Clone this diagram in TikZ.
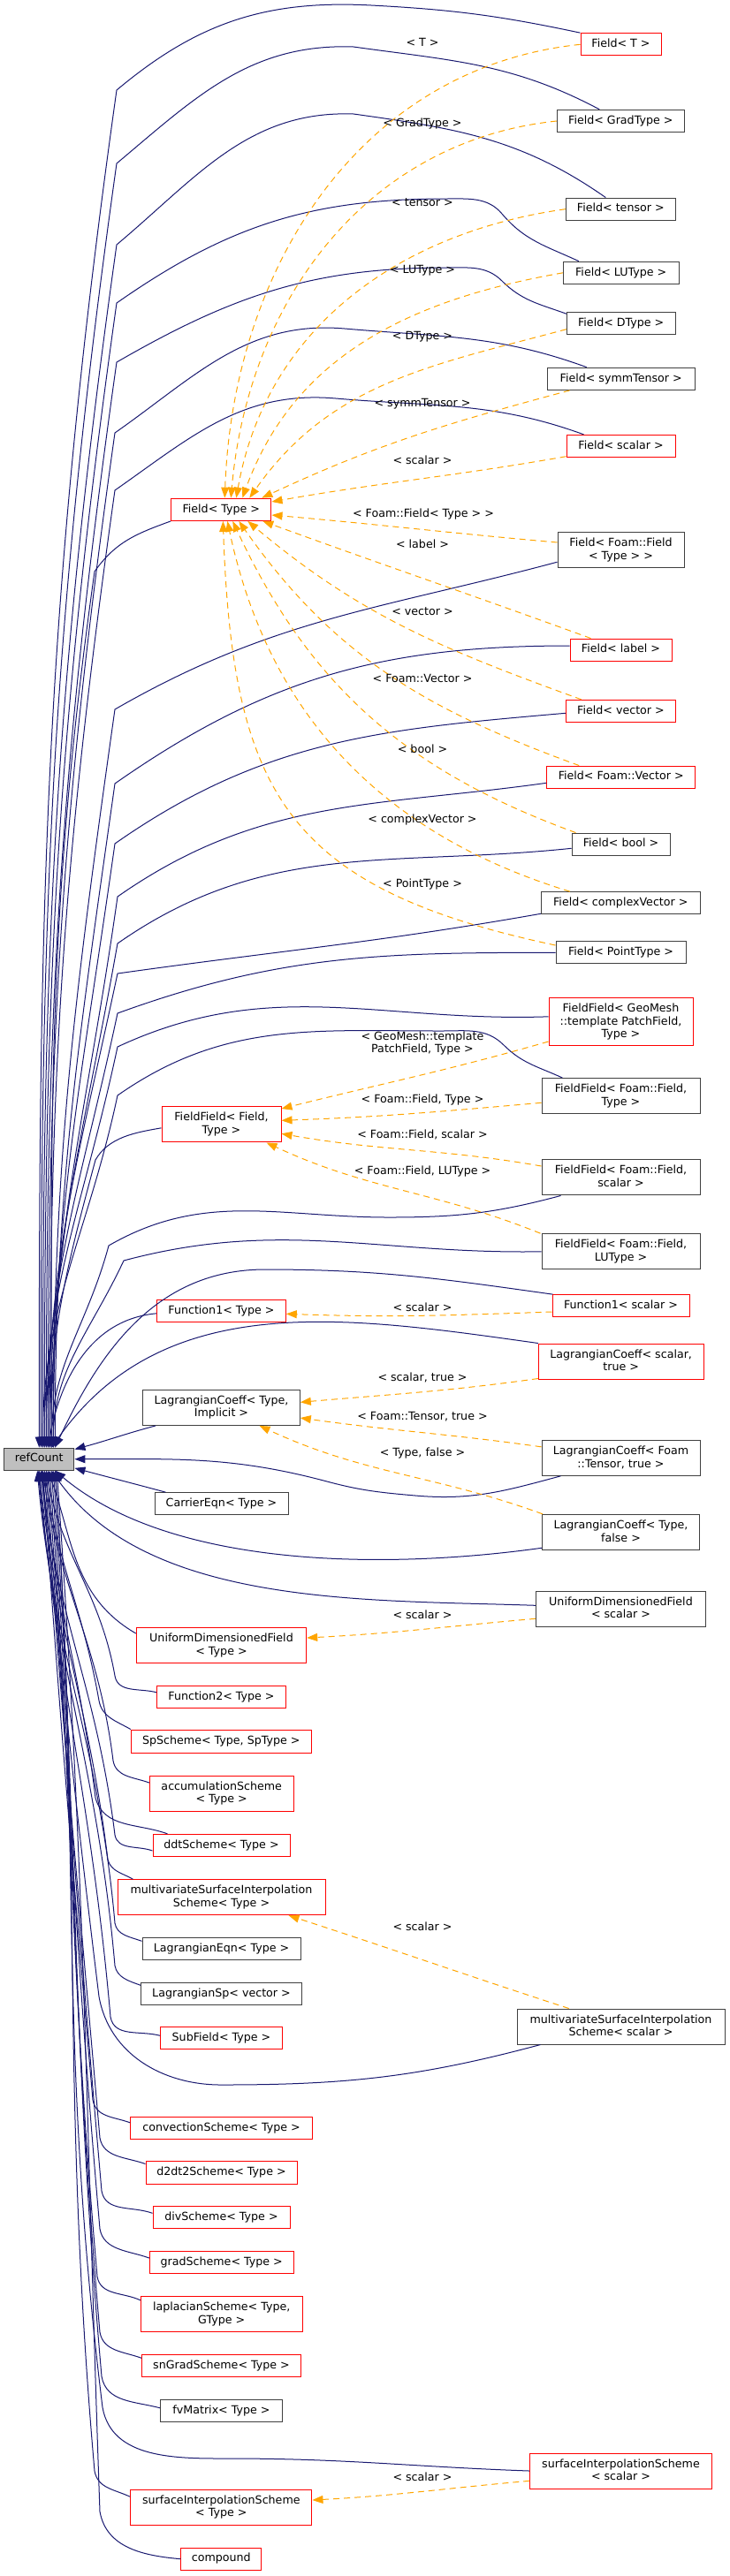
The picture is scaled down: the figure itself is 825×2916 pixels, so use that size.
\documentclass[tikz,border=0pt]{standalone}
\usepackage{fontspec}
\setmainfont{DejaVu Sans}
\usetikzlibrary{arrows.meta}
\definecolor{edgeblue}{HTML}{191970}
\definecolor{edgeorange}{HTML}{FFA500}
\definecolor{boxred}{HTML}{FF0000}
\definecolor{boxgray}{HTML}{404040}
\definecolor{fillgray}{HTML}{BFBFBF}
\newcommand\dxfont{\fontsize{12.65pt}{14.7pt}\selectfont}
\newcommand\lnstrut{\rule[-2.9pt]{0pt}{12.2pt}}
\tikzset{
  dbox/.style={draw, line width=1pt, inner sep=0pt, font=\dxfont, fill=white},
  n1/.style={dbox, text height=9.3pt, text depth=2.9pt, minimum height=25.3pt},
  n2/.style={dbox, align=center, minimum height=40pt},
  n3/.style={dbox, align=center, minimum height=54.3pt},
  rd/.style={draw=boxred},
  bk/.style={draw=boxgray},
  lbl/.style={inner sep=0pt, font=\dxfont, text height=9.3pt, text depth=2.9pt},
  lbltwo/.style={inner sep=0pt, font=\dxfont, align=center},
  be/.style={draw=edgeblue, line width=1pt, -{Triangle[length=12pt,width=9pt]}},
  bs/.style={draw=edgeblue, line width=1pt, {Triangle[length=12pt,width=9pt]}-},
  oe/.style={draw=edgeorange, line width=1pt, dash pattern=on 7pt off 5pt, -{Triangle[length=12pt,width=9pt]}},
}
\begin{document}
\begin{tikzpicture}[x=1pt,y=1pt]
\useasboundingbox (0,0) rectangle (825,-2916);
% ---------- right column ----------
\node[n1,rd,minimum width=91pt] (fT) at (702.5,-50.3) {Field< T >};
\node[n1,bk,minimum width=144pt] (fGrad) at (702.3,-137) {Field< GradType >};
\node[n1,bk,minimum width=124pt] (fTensor) at (702.3,-236.7) {Field< tensor >};
\node[n1,bk,minimum width=130.7pt] (fLU) at (702.7,-308.8) {Field< LUType >};
\node[n1,bk,minimum width=122.7pt] (fD) at (702.7,-366.2) {Field< DType >};
\node[n1,bk,minimum width=167.3pt] (fSymm) at (702.7,-428.8) {Field< symmTensor >};
\node[n1,rd,minimum width=123pt] (fScalar) at (702.5,-505) {Field< scalar >};
\node[n2,bk,minimum width=143pt] (fFF) at (702.5,-622.3) {\lnstrut Field< Foam::Field\\\lnstrut < Type > >};
\node[n1,rd,minimum width=115pt] (fLabel) at (702.5,-735.7) {Field< label >};
\node[n1,rd,minimum width=124.4pt] (fVector) at (702.5,-805) {Field< vector >};
\node[n1,rd,minimum width=168pt] (fFV) at (702.7,-879.7) {Field< Foam::Vector >};
\node[n1,bk,minimum width=111pt] (fBool) at (702.5,-955.7) {Field< bool >};
\node[n1,bk,minimum width=180pt] (fCV) at (702.3,-1022.3) {Field< complexVector >};
\node[n1,bk,minimum width=147pt] (fPT) at (702.5,-1078.3) {Field< PointType >};
\node[n3,rd,minimum width=163pt] (ffGeo) at (702.5,-1156.8) {\lnstrut FieldField< GeoMesh\\\lnstrut ::template PatchField,\\\lnstrut Type >};
\node[n2,bk,minimum width=179pt,minimum height=40.3pt] (ffFT) at (702.5,-1240.8) {\lnstrut FieldField< Foam::Field,\\\lnstrut Type >};
\node[n2,bk,minimum width=179pt,minimum height=40.3pt] (ffFS) at (702.5,-1332.8) {\lnstrut FieldField< Foam::Field,\\\lnstrut scalar >};
\node[n2,bk,minimum width=179pt,minimum height=40.3pt] (ffFL) at (702.5,-1416.8) {\lnstrut FieldField< Foam::Field,\\\lnstrut LUType >};
\node[n1,rd,minimum width=155pt] (f1s) at (702.5,-1478.3) {Function1< scalar >};
\node[n2,rd,minimum width=186.7pt] (lcST) at (702.7,-1541) {\lnstrut LagrangianCoeff< scalar,\\\lnstrut true >};
\node[n2,bk,minimum width=179pt] (lcFT) at (702.5,-1650.3) {\lnstrut LagrangianCoeff< Foam\\\lnstrut ::Tensor, true >};
\node[n2,bk,minimum width=177.6pt] (lcTF) at (702.5,-1734.3) {\lnstrut LagrangianCoeff< Type,\\\lnstrut false >};
\node[n2,bk,minimum width=192.4pt] (udfS) at (702.5,-1821) {\lnstrut UniformDimensionedField\\\lnstrut < scalar >};
\node[n2,bk,minimum width=235pt] (msisS) at (702.5,-2294) {\lnstrut multivariateSurfaceInterpolation\\\lnstrut Scheme< scalar >};
\node[n2,rd,minimum width=205.6pt] (sisS) at (702.5,-2797) {\lnstrut surfaceInterpolationScheme\\\lnstrut < scalar >};
% ---------- middle column ----------
\node[n1,rd,minimum width=113.3pt] (fType) at (250.3,-576.8) {Field< Type >};
\node[n2,rd,minimum width=135pt,minimum height=40.3pt] (ffT0) at (250.5,-1272.8) {\lnstrut FieldField< Field,\\\lnstrut Type >};
\node[n1,rd,minimum width=145.6pt] (f1T) at (250.5,-1483.8) {Function1< Type >};
\node[n2,bk,minimum width=177.6pt,minimum height=40.3pt] (lcTI) at (250.5,-1593.2) {\lnstrut LagrangianCoeff< Type,\\\lnstrut Implicit >};
\node[n1,bk,fill=fillgray,minimum width=79.3pt] (refCount) at (44.3,-1651.7) {refCount};
\node[n1,bk,minimum width=151pt] (carrier) at (250.5,-1702.3) {CarrierEqn< Type >};
\node[n2,rd,minimum width=192.4pt] (udfT) at (250.5,-1862.3) {\lnstrut UniformDimensionedField\\\lnstrut < Type >};
\node[n1,rd,minimum width=145.6pt] (f2T) at (250.5,-1920.8) {Function2< Type >};
\node[n1,rd,minimum width=204pt,minimum height=26pt] (sp) at (250.3,-1971) {SpScheme< Type, SpType >};
\node[n2,rd,minimum width=162.7pt,minimum height=39.7pt] (accum) at (250.7,-2030.2) {\lnstrut accumulationScheme\\\lnstrut < Type >};
\node[n1,rd,minimum width=155pt] (ddt) at (250.5,-2089) {ddtScheme< Type >};
\node[n2,rd,minimum width=235pt] (msisT) at (250.5,-2147.7) {\lnstrut multivariateSurfaceInterpolation\\\lnstrut Scheme< Type >};
\node[n1,bk,minimum width=179pt] (lEqn) at (250.5,-2206.3) {LagrangianEqn< Type >};
\node[n1,bk,minimum width=181.6pt] (lSp) at (250.5,-2257) {LagrangianSp< vector >};
\node[n1,rd,minimum width=137.6pt] (subF) at (250.5,-2307.3) {SubField< Type >};
\node[n1,rd,minimum width=205.6pt] (conv) at (250.5,-2408.8) {convectionScheme< Type >};
\node[n1,rd,minimum width=171pt] (d2dt2) at (250.5,-2459.5) {d2dt2Scheme< Type >};
\node[n1,rd,minimum width=155pt] (divS) at (250.5,-2510.3) {divScheme< Type >};
\node[n1,rd,minimum width=162.7pt] (gradS) at (250.7,-2561) {gradScheme< Type >};
\node[n2,rd,minimum width=182.7pt,minimum height=39.7pt] (lap) at (250.7,-2619.8) {\lnstrut laplacianScheme< Type,\\\lnstrut GType >};
\node[n1,rd,minimum width=179.6pt] (snGrad) at (250.5,-2678.3) {snGradScheme< Type >};
\node[n1,bk,minimum width=137.6pt] (fvM) at (250.5,-2728.8) {fvMatrix< Type >};
\node[n2,rd,minimum width=205.3pt,minimum height=39.7pt] (sisT) at (250.3,-2838.2) {\lnstrut surfaceInterpolationScheme\\\lnstrut < Type >};
\node[n1,rd,minimum width=90.7pt] (compound) at (250.3,-2896.7) {compound};

% ---------- blue edges, upper group ----------
\draw[be] (fT.north west) .. controls +(168:93) and +(-3:93) .. (420,-6) .. controls +(177:119) and +(40:119) .. (132,-102) .. controls +(262:600) and +(90:600) .. (refCount.north);
\draw[be] ([xshift=-24pt]fGrad.north) .. controls +(152:112) and +(-8:112) .. (400,-53) .. controls +(178:117) and +(40:117) .. (132,-185) .. controls +(262:568) and +(90:568) .. ([xshift=2pt]refCount.north);
\draw[be] ([xshift=-17pt]fTensor.north) .. controls +(145:117) and +(-8:117) .. (400,-129) .. controls +(178:119) and +(40:119) .. (132,-277) .. controls +(262:532) and +(90:532) .. ([xshift=4pt]refCount.north);
\draw[be] ([xshift=18pt]fLU.north west) .. controls +(155:40) and +(-50:40) .. (568,-242) .. controls +(130:25) and +(0:25) .. (505,-225) .. controls +(180:153) and +(35:153) .. (132,-343) .. controls +(262:506) and +(90:506) .. ([xshift=6pt]refCount.north);
\draw[be] ([yshift=11pt]fD.west) .. controls +(160:32) and +(-45:32) .. (568,-318) .. controls +(135:25) and +(0:25) .. (505,-303) .. controls +(180:151) and +(30:151) .. (132,-410) .. controls +(262:480) and +(90:480) .. ([xshift=8pt]refCount.north);
\draw[be] ([xshift=-39pt]fSymm.north) .. controls +(160:108) and +(-5:108) .. (390,-372) .. controls +(175:111) and +(35:111) .. (130,-490) .. controls +(262:449) and +(90:449) .. ([xshift=10pt]refCount.north);
\draw[be] ([xshift=-42pt]fScalar.north) .. controls +(160:110) and +(-5:110) .. (380,-451) .. controls +(175:106) and +(35:106) .. (130,-555) .. controls +(262:424) and +(90:424) .. ([xshift=12pt]refCount.north);
\draw[be] (fType.south west) .. controls +(200:41) and +(55:41) .. (107,-647) .. controls +(262:387) and +(90:387) .. ([xshift=14pt]refCount.north);
\draw[be] ([yshift=6.6pt]fFF.south west) .. controls +(195:206) and +(30:206) .. (130,-803) .. controls +(262:327) and +(90:327) .. ([xshift=16pt]refCount.north);
\draw[be] ([yshift=4.7pt]fLabel.west) .. controls +(180:210) and +(35:210) .. (130,-887) .. controls +(262:294) and +(90:294) .. ([xshift=18pt]refCount.north);
\draw[be] ([yshift=-2.3pt]fVector.west) .. controls +(185:207) and +(35:207) .. (130,-955) .. controls +(262:268) and +(90:268) .. ([xshift=16pt]refCount.north);
\draw[be] ([yshift=-6.6pt]fFV.west) .. controls +(188:196) and +(35:196) .. (133,-1015) .. controls +(262:245) and +(90:245) .. ([xshift=14pt]refCount.north);
\draw[be] ([yshift=-4.6pt]fBool.west) .. controls +(186:205) and +(35:205) .. (133,-1068) .. controls +(260:225) and +(90:225) .. ([xshift=12pt]refCount.north);
\draw[be] ([yshift=-12pt]fCV.west) .. controls +(190:189) and +(8:189) .. (133,-1102) .. controls +(258:212) and +(90:212) .. ([xshift=10pt]refCount.north);
\draw[be] (fPT.west) .. controls +(180:195) and +(20:195) .. (133,-1147) .. controls +(258:194) and +(90:194) .. ([xshift=8pt]refCount.north);
\draw[be] ([yshift=6pt]ffGeo.west) .. controls +(182:191) and +(25:191) .. (133,-1185) .. controls +(258:180) and +(90:180) .. ([xshift=6pt]refCount.north);
\draw[be] ([xshift=24pt]ffFT.north west) .. controls +(155:30) and +(-45:30) .. (570,-1183) .. controls +(135:28) and +(0:28) .. (500,-1167) .. controls +(180:146) and +(35:146) .. (133,-1240) .. controls +(258:159) and +(90:159) .. ([xshift=4pt]refCount.north);
\draw[be] ([yshift=-4pt]ffT0.west) .. controls +(190:30) and +(60:30) .. (108,-1313) .. controls +(255:130) and +(90:130) .. ([xshift=12pt]refCount.north);
\draw[be] ([xshift=22pt]ffFS.south west) .. controls +(195:77) and +(0:77) .. (440,-1378) .. controls +(180:124) and +(30:124) .. (123,-1410) .. controls +(255:93) and +(90:93) .. ([xshift=14pt]refCount.north);
\draw[be] (ffFL.west) .. controls +(181:184) and +(15:184) .. (140,-1427) .. controls +(245:88) and +(90:88) .. ([xshift=16pt]refCount.north);
\draw[be] ([xshift=1pt]f1s.north west) .. controls +(172:128) and +(0:128) .. (300,-1437) .. controls +(180:122) and +(65:122) .. ([xshift=18pt]refCount.north);
\draw[be] ([yshift=-3pt]f1T.west) .. controls +(185:76) and +(80:76) .. ([xshift=10pt]refCount.north);
\draw[be] (lcST.north west) .. controls +(172:220) and +(55:220) .. ([xshift=14pt]refCount.north);
\draw[be] ([xshift=15pt]lcTI.south west) .. controls +(195:38) and +(15:38) .. ([yshift=-2pt]refCount.north east);
\draw[be] ([xshift=22pt]lcFT.south west) .. controls +(195:65) and +(-5:65) .. (470,-1693) .. controls +(175:40) and +(-15:40) .. (370,-1677) .. controls +(165:112) and +(0:112) .. (refCount.east);
\draw[be] ([xshift=13pt]carrier.north west) .. controls +(165:42) and +(-15:42) .. ([yshift=3pt]refCount.south east);

% ---------- blue edges, lower group ----------
\draw[bs] ([xshift=18pt]refCount.south) .. controls +(-40:174) and +(188:174) .. ([yshift=2.6pt]lcTF.south west);
\draw[bs] ([xshift=14pt]refCount.south) .. controls +(-55:189) and +(178:189) .. ([yshift=3.7pt]udfS.west);
\draw[bs] ([xshift=10pt]refCount.south) .. controls +(-70:82) and +(150:82) .. ([yshift=13.3pt]udfT.west);
\draw[bs] ([xshift=8pt]refCount.south) .. controls +(-80:96) and +(100:96) .. (130,-1897) .. controls +(-80:20) and +(165:20) .. ([yshift=5pt]f2T.west);
\draw[bs] ([xshift=6pt]refCount.south) .. controls +(-82:105) and +(100:105) .. (112,-1925) .. controls +(-80:19) and +(150:19) .. (sp.north west);
\draw[bs] ([xshift=4pt]refCount.south) .. controls +(-82:132) and +(97:132) .. (128,-1993) .. controls +(-80:19) and +(160:19) .. ([yshift=12.2pt]accum.west);
\draw[bs] ([xshift=3pt]refCount.south) .. controls +(-84:147) and +(97:147) .. (108,-2035) .. controls +(-75:36) and +(160:36) .. ([xshift=17pt]ddt.north west);
\draw[bs] ([xshift=2pt]refCount.south) .. controls +(-84:164) and +(97:164) .. (130,-2077) .. controls +(-80:18) and +(160:18) .. ([yshift=-6pt]ddt.west);
\draw[bs] (refCount.south) .. controls +(-84:175) and +(97:175) .. (122,-2105) .. controls +(-75:14) and +(150:14) .. ([xshift=18pt]msisT.north west);
\draw[bs] ([xshift=-2pt]refCount.south) .. controls +(-85:203) and +(95:203) .. (130,-2177) .. controls +(-80:14) and +(160:14) .. ([yshift=9pt]lEqn.west);
\draw[bs] ([xshift=-1pt]refCount.south) .. controls +(-85:221) and +(95:221) .. (130,-2225) .. controls +(-80:14) and +(160:14) .. ([yshift=9.7pt]lSp.west);
\draw[bs] (refCount.south) .. controls +(-85:243) and +(95:243) .. (125,-2283) .. controls +(-80:24) and +(165:24) .. ([yshift=3pt]subF.west);
\draw[bs] ([xshift=2pt]refCount.south) .. controls +(-84:234) and +(97:234) .. (112,-2260) .. controls +(-80:66) and +(180:66) .. (250,-2360) .. controls +(0:142) and +(195:142) .. ([xshift=27pt]msisS.south west);
\draw[bs] ([xshift=4pt]refCount.south) .. controls +(-86:279) and +(95:279) .. (105,-2377) .. controls +(-80:20) and +(160:20) .. ([yshift=6pt]conv.west);
\draw[bs] ([xshift=6pt]refCount.south) .. controls +(-86:296) and +(95:296) .. (113,-2420) .. controls +(-80:23) and +(160:23) .. ([yshift=10pt]d2dt2.west);
\draw[bs] ([xshift=8pt]refCount.south) .. controls +(-86:319) and +(95:319) .. (115,-2480) .. controls +(-80:25) and +(160:25) .. ([yshift=5pt]divS.west);
\draw[bs] ([xshift=10pt]refCount.south) .. controls +(-86:336) and +(95:336) .. (113,-2523) .. controls +(-80:25) and +(160:25) .. ([yshift=5pt]gradS.west);
\draw[bs] ([xshift=12pt]refCount.south) .. controls +(-86:357) and +(95:357) .. (110,-2577) .. controls +(-80:22) and +(155:22) .. ([yshift=16pt]lap.west);
\draw[bs] ([xshift=14pt]refCount.south) .. controls +(-86:381) and +(95:381) .. (113,-2640) .. controls +(-80:22) and +(160:22) .. ([yshift=9pt]snGrad.west);
\draw[bs] ([xshift=16pt]refCount.south) .. controls +(-86:401) and +(95:401) .. (115,-2690) .. controls +(-80:30) and +(165:30) .. ([yshift=3pt]fvM.west);
\draw[bs] ([xshift=18pt]refCount.south) .. controls +(-86:414) and +(97:414) .. (116,-2725) .. controls +(-80:60) and +(180:60) .. (260,-2783) .. controls +(0:133) and +(178:133) .. (sisS.west);
\draw[bs] ([xshift=18pt]refCount.south) .. controls +(-86:442) and +(95:442) .. (107,-2797) .. controls +(-80:20) and +(155:20) .. ([yshift=12pt]sisT.west);
\draw[bs] ([xshift=20pt]refCount.south) .. controls +(-86:460) and +(92:460) .. (113,-2843) .. controls +(-80:42) and +(175:42) .. (compound.west);

% ---------- orange template edges ----------
\draw[oe] (fT.west) .. controls +(186:255) and +(88:255) .. ([xshift=4pt]fType.north);
\draw[oe] (fGrad.west) .. controls +(186:220) and +(85:220) .. ([xshift=11pt]fType.north);
\draw[oe] (fTensor.west) .. controls +(188:193) and +(80:193) .. ([xshift=17pt]fType.north);
\draw[oe] (fLU.west) .. controls +(190:173) and +(70:173) .. ([xshift=24pt]fType.north);
\draw[oe] ([yshift=-6.5pt]fD.west) .. controls +(195:159) and +(55:159) .. ([xshift=32pt]fType.north);
\draw[oe] ([xshift=26pt]fSymm.south west) .. controls +(195:144) and +(25:144) .. ([xshift=46pt]fType.north);
\draw[oe] ([yshift=-11.7pt]fScalar.west) .. controls +(190:132) and +(10:132) .. ([yshift=8.8pt]fType.east);
\draw[oe] ([yshift=8.3pt]fFF.west) .. controls +(175:127) and +(-5:127) .. ([yshift=-6.2pt]fType.east);
\draw[oe] ([xshift=24pt]fLabel.north west) .. controls +(160:154) and +(-20:154) .. ([xshift=47pt]fType.south);
\draw[oe] ([xshift=18pt]fVector.north west) .. controls +(160:167) and +(-40:167) .. ([xshift=30pt]fType.south);
\draw[oe] ([xshift=37pt]fFV.north west) .. controls +(160:185) and +(-55:185) .. ([xshift=20pt]fType.south);
\draw[oe] ([xshift=5pt]fBool.north west) .. controls +(160:205) and +(-65:205) .. ([xshift=13pt]fType.south);
\draw[oe] ([xshift=33pt]fCV.north west) .. controls +(163:223) and +(-78:223) .. ([xshift=7pt]fType.south);
\draw[oe] ([yshift=8.3pt]fPT.west) .. controls +(168:310) and +(-88:310) .. ([xshift=2pt]fType.south);
\draw[oe] ([yshift=-22.2pt]ffGeo.west) .. controls +(196:122) and +(14:122) .. ([yshift=17.8pt]ffT0.east);
\draw[oe] ([yshift=-7.5pt]ffFT.west) .. controls +(185:115) and +(2:115) .. ([yshift=4.5pt]ffT0.east);
\draw[oe] ([yshift=12.8pt]ffFS.west) .. controls +(170:116) and +(-10:116) .. ([yshift=-10.5pt]ffT0.east);
\draw[oe] ([xshift=-1pt]ffFL.north west) .. controls +(158:128) and +(-25:128) .. ([xshift=51pt]ffT0.south);
\draw[oe] ([yshift=-6.7pt]f1s.west) .. controls +(182:118) and +(-2:118) .. ([yshift=-3.5pt]f1T.east);
\draw[oe] ([yshift=1pt]lcST.south west) .. controls +(188:106) and +(5:106) .. ([yshift=5.9pt]lcTI.east);
\draw[oe] ([yshift=-8pt]lcFT.north west) .. controls +(172:108) and +(-8:108) .. ([yshift=-11.8pt]lcTI.east);
\draw[oe] ([xshift=0.7pt]lcTF.north west) .. controls +(160:131) and +(-25:131) .. ([xshift=43pt]lcTI.south);
\draw[oe] ([yshift=-11.3pt]udfS.west) .. controls +(185:102) and +(3:102) .. ([yshift=8.3pt]udfT.east);
\draw[oe] ([xshift=-58.8pt]msisS.north) .. controls +(162:130) and +(-18:130) .. ([xshift=76pt]msisT.south);
\draw[oe] ([yshift=-11.3pt]sisS.west) .. controls +(185:97) and +(3:97) .. ([yshift=8.2pt]sisT.east);

% ---------- edge labels ----------
\node[lbl] (l1) at (478,-49.7) {< T >};
\node[lbl] (l2) at (478,-140.7) {< GradType >};
\node[lbl] (l3) at (478,-230.1) {< tensor >};
\node[lbl] (l4) at (478,-306.7) {< LUType >};
\node[lbl] (l5) at (478,-381.7) {< DType >};
\node[lbl] (l6) at (478,-457.7) {< symmTensor >};
\node[lbl] (l7) at (478,-522.7) {< scalar >};
\node[lbl] (l8) at (479,-582.4) {< Foam::Field< Type > >};
\node[lbl] (l9) at (478,-617.4) {< label >};
\node[lbl] (l10) at (478,-693.7) {< vector >};
\node[lbl] (l11) at (478,-769.7) {< Foam::Vector >};
\node[lbl] (l12) at (478,-849.7) {< bool >};
\node[lbl] (l13) at (478,-928.7) {< complexVector >};
\node[lbl] (l14) at (478,-1001.7) {< PointType >};
\node[lbltwo] (l15) at (478,-1181.2) {\lnstrut < GeoMesh::template\\\lnstrut PatchField, Type >};
\node[lbl] (l16) at (478,-1245.7) {< Foam::Field, Type >};
\node[lbl] (l17) at (478,-1285.7) {< Foam::Field, scalar >};
\node[lbl] (l18) at (478,-1326.7) {< Foam::Field, LUType >};
\node[lbl] (l19) at (478,-1481.4) {< scalar >};
\node[lbl] (l20) at (478,-1560.7) {< scalar, true >};
\node[lbl] (l21) at (478,-1604.7) {< Foam::Tensor, true >};
\node[lbl] (l22) at (478,-1645.7) {< Type, false >};
\node[lbl] (l23) at (478,-1829.7) {< scalar >};
\node[lbl] (l24) at (478,-2182.7) {< scalar >};
\node[lbl] (l25) at (478,-2805.7) {< scalar >};
\end{tikzpicture}
\end{document}
